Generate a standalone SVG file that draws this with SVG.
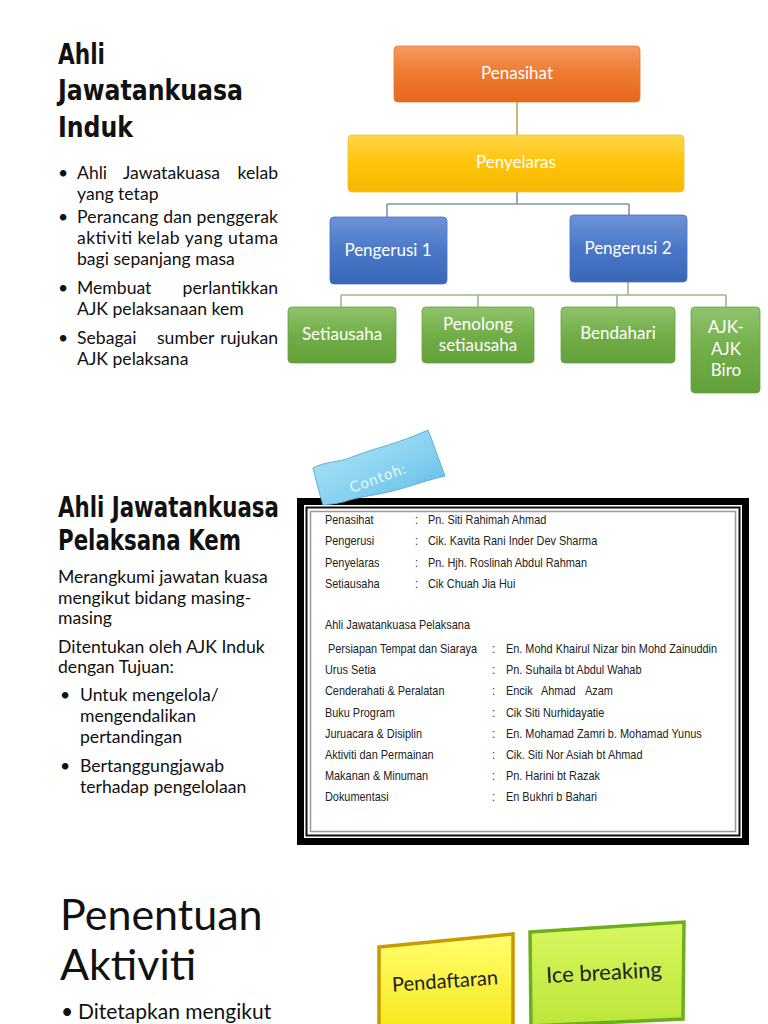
<svg xmlns="http://www.w3.org/2000/svg" width="768" height="1024" viewBox="0 0 768 1024">
<defs>
<style>
.title{font-family:"DejaVu Sans Condensed","DejaVu Sans",sans-serif;font-weight:bold;font-size:29px;fill:#111}
.body{font-family:Lato,"Open Sans",sans-serif;font-size:17.6px;fill:#111}
.big{font-family:Lato,"Open Sans",sans-serif;font-size:43px;fill:#111}
.lbl{font-family:Lato,"Open Sans",sans-serif;font-size:17px;fill:#fff;text-anchor:middle}
.tb{font-family:"Liberation Sans",Arial,sans-serif;font-size:12px;fill:#222}
.conn{fill:none;stroke-width:1.6}
</style>
<linearGradient id="gOr" x1="0" y1="0" x2="0" y2="1"><stop offset="0" stop-color="#f49a62"/><stop offset="0.5" stop-color="#ee7a2e"/><stop offset="1" stop-color="#e5671c"/></linearGradient>
<linearGradient id="gYe" x1="0" y1="0" x2="0" y2="1"><stop offset="0" stop-color="#ffd64a"/><stop offset="0.5" stop-color="#ffc30a"/><stop offset="1" stop-color="#f5b800"/></linearGradient>
<linearGradient id="gBl" x1="0" y1="0" x2="0" y2="1"><stop offset="0" stop-color="#6d92d8"/><stop offset="0.5" stop-color="#4a78c8"/><stop offset="1" stop-color="#3a66b6"/></linearGradient>
<linearGradient id="gGr" x1="0" y1="0" x2="0" y2="1"><stop offset="0" stop-color="#8fc46c"/><stop offset="0.5" stop-color="#72ae48"/><stop offset="1" stop-color="#62a03a"/></linearGradient>
<linearGradient id="gFlag" x1="0" y1="0" x2="1" y2="1"><stop offset="0" stop-color="#b8e6f8"/><stop offset="0.6" stop-color="#82d0ef"/><stop offset="1" stop-color="#5cb6e2"/></linearGradient>
<linearGradient id="gY2" x1="0" y1="0" x2="0" y2="1"><stop offset="0" stop-color="#ffff70"/><stop offset="1" stop-color="#f7e81e"/></linearGradient>
<linearGradient id="gG2" x1="0" y1="0" x2="0" y2="1"><stop offset="0" stop-color="#d8f760"/><stop offset="1" stop-color="#bce63a"/></linearGradient>
</defs>
<rect width="768" height="1024" fill="#fff"/>

<!-- Section 1 text -->
<g id="sec1-text">
<text class="title" x="58" y="64" textLength="47" lengthAdjust="spacingAndGlyphs">Ahli</text>
<text class="title" x="58" y="100" textLength="185" lengthAdjust="spacingAndGlyphs">Jawatankuasa</text>
<text class="title" x="58" y="137" textLength="75" lengthAdjust="spacingAndGlyphs">Induk</text>
<g class="body">
<text x="58" y="179">•</text><text x="77" y="179">Ahli</text><text x="123" y="179">Jawatakuasa</text><text x="278" y="179" text-anchor="end">kelab</text>
<text x="77" y="200">yang tetap</text>
<text x="58" y="223">•</text><text x="77" y="223" textLength="201" lengthAdjust="spacing">Perancang dan penggerak</text>
<text x="77" y="244" textLength="201" lengthAdjust="spacing">aktiviti kelab yang utama</text>
<text x="77" y="265">bagi sepanjang masa</text>
<text x="58" y="294">•</text><text x="77" y="294">Membuat</text><text x="278" y="294" text-anchor="end">perlantikkan</text>
<text x="77" y="315">AJK pelaksanaan kem</text>
<text x="58" y="344">•</text><text x="77" y="344">Sebagai</text><text x="157" y="344">sumber</text><text x="278" y="344" text-anchor="end">rujukan</text>
<text x="77" y="365">AJK pelaksana</text>
</g>
</g>

<!-- Org chart connectors -->
<g id="connectors">
<path class="conn" stroke="#c9a062" d="M517,102 V135"/>
<path class="conn" stroke="#7f95bf" d="M517,192 V204 M387,204 H629 M387,204 V217 M629,204 V215"/>
<path class="conn" stroke="#9cba84" d="M628,282 V295 M341,295 H726 M341,295 V307 M478,295 V307 M617,295 V307 M726,295 V307"/>
</g>

<g id="penasihat"><rect x="394" y="46" width="246" height="56" rx="4" fill="url(#gOr)" stroke="#e07a3a" stroke-width="0.8"/><text class="lbl" x="517" y="79">Penasihat</text></g>
<g id="penyelaras"><rect x="348" y="135" width="336" height="57" rx="4" fill="url(#gYe)" stroke="#f0c030" stroke-width="0.8"/><text class="lbl" x="516" y="168">Penyelaras</text></g>
<g id="pengerusi1"><rect x="330" y="217" width="117" height="67" rx="4" fill="url(#gBl)" stroke="#4a70b8" stroke-width="0.8"/><text class="lbl" x="388" y="256">Pengerusi 1</text></g>
<g id="pengerusi2"><rect x="570" y="215" width="117" height="67" rx="4" fill="url(#gBl)" stroke="#4a70b8" stroke-width="0.8"/><text class="lbl" x="628" y="254">Pengerusi 2</text></g>
<g id="setiausaha"><rect x="288" y="307" width="108" height="56" rx="4" fill="url(#gGr)" stroke="#6aa042" stroke-width="0.8"/><text class="lbl" x="342" y="340">Setiausaha</text></g>
<g id="penolong"><rect x="422" y="307" width="112" height="56" rx="4" fill="url(#gGr)" stroke="#6aa042" stroke-width="0.8"/><text class="lbl" x="478" y="330">Penolong</text><text class="lbl" x="478" y="351">setiausaha</text></g>
<g id="bendahari"><rect x="561" y="307" width="114" height="56" rx="4" fill="url(#gGr)" stroke="#6aa042" stroke-width="0.8"/><text class="lbl" x="618" y="339">Bendahari</text></g>
<g id="ajkbiro"><rect x="691" y="307" width="69" height="86" rx="4" fill="url(#gGr)" stroke="#6aa042" stroke-width="0.8"/><text class="lbl" x="726" y="333">AJK-</text><text class="lbl" x="726" y="355">AJK</text><text class="lbl" x="726" y="376">Biro</text></g>

<!-- Section 2 text -->
<g id="sec2-text">
<text class="title" x="58" y="517" textLength="221" lengthAdjust="spacingAndGlyphs">Ahli Jawatankuasa</text>
<text class="title" x="58" y="550" textLength="183" lengthAdjust="spacingAndGlyphs">Pelaksana Kem</text>
<g class="body">
<text x="58" y="583">Merangkumi jawatan kuasa</text>
<text x="58" y="604">mengikut bidang masing-</text>
<text x="58" y="624">masing</text>
<text x="58" y="653">Ditentukan oleh AJK Induk</text>
<text x="58" y="673">dengan Tujuan:</text>
<text x="60" y="701">•</text><text x="80" y="701">Untuk mengelola/</text>
<text x="80" y="722">mengendalikan</text>
<text x="80" y="743">pertandingan</text>
<text x="60" y="772">•</text><text x="80" y="772">Bertanggungjawab</text>
<text x="80" y="793">terhadap pengelolaan</text>
</g>
</g>

<!-- Frame with table -->
<g id="frame">
<rect x="297" y="498" width="452" height="347" fill="#000"/>
<rect x="304" y="505" width="438" height="333" fill="#fff"/>
<rect x="306.5" y="507.5" width="433" height="328" fill="none" stroke="#111" stroke-width="2"/>
<rect x="310.5" y="511.5" width="425" height="320" fill="#fff" stroke="#999" stroke-width="1.5"/>
<g class="tb" transform="scale(0.91,1)">
<text x="357.1" y="524">Penasihat</text><text x="456" y="524">:</text><text x="470.3" y="524">Pn. Siti Rahimah Ahmad</text>
<text x="357.1" y="545">Pengerusi</text><text x="456" y="545">:</text><text x="470.3" y="545">Cik. Kavita Rani Inder Dev Sharma</text>
<text x="357.1" y="567">Penyelaras</text><text x="456" y="567">:</text><text x="470.3" y="567">Pn. Hjh. Roslinah Abdul Rahman</text>
<text x="357.1" y="588">Setiausaha</text><text x="456" y="588">:</text><text x="470.3" y="588">Cik Chuah Jia Hui</text>
<text x="357.1" y="629">Ahli Jawatankuasa Pelaksana</text>
<text x="360.4" y="653">Persiapan Tempat dan Siaraya</text><text x="540.7" y="653">:</text><text x="556" y="653">En. Mohd Khairul Nizar bin Mohd Zainuddin</text>
<text x="357.1" y="674">Urus Setia</text><text x="540.7" y="674">:</text><text x="556" y="674">Pn. Suhaila bt Abdul Wahab</text>
<text x="357.1" y="695">Cenderahati &amp; Peralatan</text><text x="540.7" y="695">:</text><text x="556" y="695">Encik</text><text x="594.5" y="695">Ahmad</text><text x="642.9" y="695">Azam</text>
<text x="357.1" y="717">Buku Program</text><text x="540.7" y="717">:</text><text x="556" y="717">Cik Siti Nurhidayatie</text>
<text x="357.1" y="738">Juruacara &amp; Disiplin</text><text x="540.7" y="738">:</text><text x="556" y="738">En. Mohamad Zamri b. Mohamad Yunus</text>
<text x="357.1" y="759">Aktiviti dan Permainan</text><text x="540.7" y="759">:</text><text x="556" y="759">Cik. Siti Nor Asiah bt Ahmad</text>
<text x="357.1" y="780">Makanan &amp; Minuman</text><text x="540.7" y="780">:</text><text x="556" y="780">Pn. Harini bt Razak</text>
<text x="357.1" y="801">Dokumentasi</text><text x="540.7" y="801">:</text><text x="556" y="801">En Bukhri b Bahari</text>
</g>
</g>

<g id="contoh">
<path d="M313,468 C326,461 338,463 352,457 C375,448 400,443 428,430 C434,445 439,460 445,476 C428,480 414,485 400,489 C380,495 360,496 343,502 C335,504 329,504 323,505 C319,492 316,480 313,468 Z" fill="url(#gFlag)" stroke="#5eb0d8" stroke-width="1"/>
<text x="378" y="483" transform="rotate(-20 378 478)" text-anchor="middle" font-family="Lato,'Open Sans',sans-serif" font-size="15" letter-spacing="1" fill="#fff" fill-opacity="0.85">Contoh:</text>
</g>

<!-- Section 3 -->
<g id="sec3-text">
<text class="big" x="60" y="930">Penentuan</text>
<text class="big" x="60" y="980">Aktiviti</text>
<text class="body" x="61" y="1019" style="font-size:21px">•</text>
<text class="body" x="78" y="1019" style="font-size:21px">Ditetapkan mengikut</text>
</g>

<g id="pendaftaran">
<polygon points="379,947 513,934 513,1026 379,1026" fill="url(#gY2)" stroke="#c79a06" stroke-width="3.5"/>
<text x="445" y="988" transform="rotate(-4 445 981)" text-anchor="middle" font-family="Lato,'Open Sans',sans-serif" font-size="20" fill="#222">Pendaftaran</text>
</g>
<g id="icebreaking">
<polygon points="530,932 684,922 683,1019 531,1026" fill="url(#gG2)" stroke="#6cae1e" stroke-width="3.5"/>
<text x="604" y="980" transform="rotate(-3 604 973)" text-anchor="middle" font-family="Lato,'Open Sans',sans-serif" font-size="22" fill="#222">Ice breaking</text>
</g>
</svg>
